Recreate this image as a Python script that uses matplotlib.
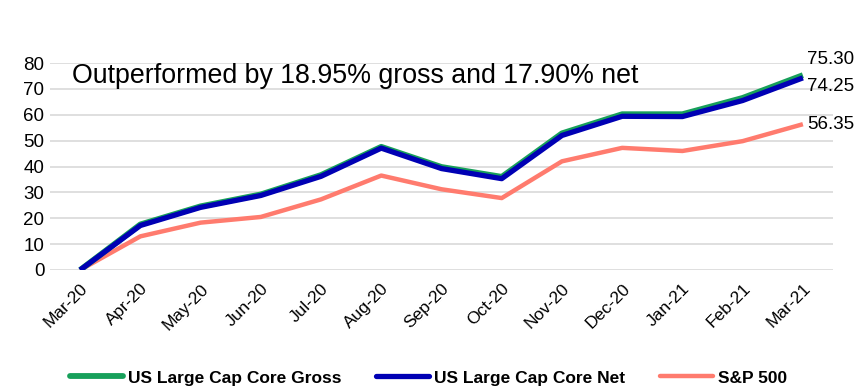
import matplotlib
matplotlib.use("Agg")
import matplotlib.pyplot as plt

months = ["Mar-20", "Apr-20", "May-20", "Jun-20", "Jul-20", "Aug-20", "Sep-20",
          "Oct-20", "Nov-20", "Dec-20", "Jan-21", "Feb-21", "Mar-21"]
gross = [0, 17.6, 24.6, 29.2, 36.7, 47.6, 39.8, 36.0, 52.8, 60.2, 60.2, 66.5, 75.30]
net = [0, 17.2, 24.2, 28.8, 36.2, 47.1, 39.2, 35.3, 52.0, 59.4, 59.3, 65.5, 74.25]
sp500 = [0, 13.0, 18.3, 20.5, 27.3, 36.5, 31.2, 27.8, 42.0, 47.2, 46.0, 49.8, 56.35]
yticks = [0, 10, 20, 30, 40, 50, 60, 70, 80]
title_text = "Outperformed by 18.95% gross and 17.90% net"

plt.rcParams['font.family'] = ['Liberation Sans', 'DejaVu Sans']

fig = plt.figure(figsize=(8.57, 3.87), dpi=100)
ax = fig.add_axes([50/857, (387-270)/387, 783/857, 207/387])

x = list(range(len(months)))
l1, = ax.plot(x, gross, color="#17A05A", lw=4.2, solid_capstyle='butt', label="US Large Cap Core Gross", zorder=3)
l2, = ax.plot(x, net, color="#0000B4", lw=3.8, solid_capstyle='butt', label="US Large Cap Core Net", zorder=4)
l3, = ax.plot(x, sp500, color="#FF7B6E", lw=3.2, solid_capstyle='butt', label="S&P 500", zorder=2)

ax.set_xlim(-0.5, 12.5)
ax.set_ylim(0, 80)
ax.set_yticks(yticks)
ax.set_yticklabels([str(v) for v in yticks], fontsize=13.5)
ax.set_xticks(x)
ax.set_xticklabels(months, rotation=45, ha='right', rotation_mode='anchor', fontsize=12.5)
ax.tick_params(axis='both', length=0, pad=4)
ax.tick_params(axis='x', pad=8)
ax.grid(axis='y', color="#D9D9D9", lw=1.2)
ax.set_axisbelow(True)
for s in ax.spines.values():
    s.set_visible(False)

ax.text(-0.13, 74.8, title_text, fontsize=19.3, va='center', ha='left')

ax.annotate(f"{gross[-1]:.2f}", (12, gross[-1]), xytext=(3, 11.5), textcoords='offset points',
            fontsize=13.5, va='center', ha='left', annotation_clip=False)
ax.annotate(f"{net[-1]:.2f}", (12, net[-1]), xytext=(3, -6.5), textcoords='offset points',
            fontsize=13.5, va='center', ha='left', annotation_clip=False)
ax.annotate(f"{sp500[-1]:.2f}", (12, sp500[-1]), xytext=(3, 0), textcoords='offset points',
            fontsize=13.5, va='center', ha='left', annotation_clip=False)

leg = fig.legend(handles=[l1, l2, l3], loc='center', bbox_to_anchor=(0.5, 1 - 378/387),
                 ncol=3, frameon=False, prop={'weight': 'bold', 'size': 12.5},
                 handlelength=3.05, handletextpad=0.3, columnspacing=2.0)
for h in leg.legend_handles:
    h.set_solid_capstyle('round')

fig.savefig("out.png", dpi=100)
